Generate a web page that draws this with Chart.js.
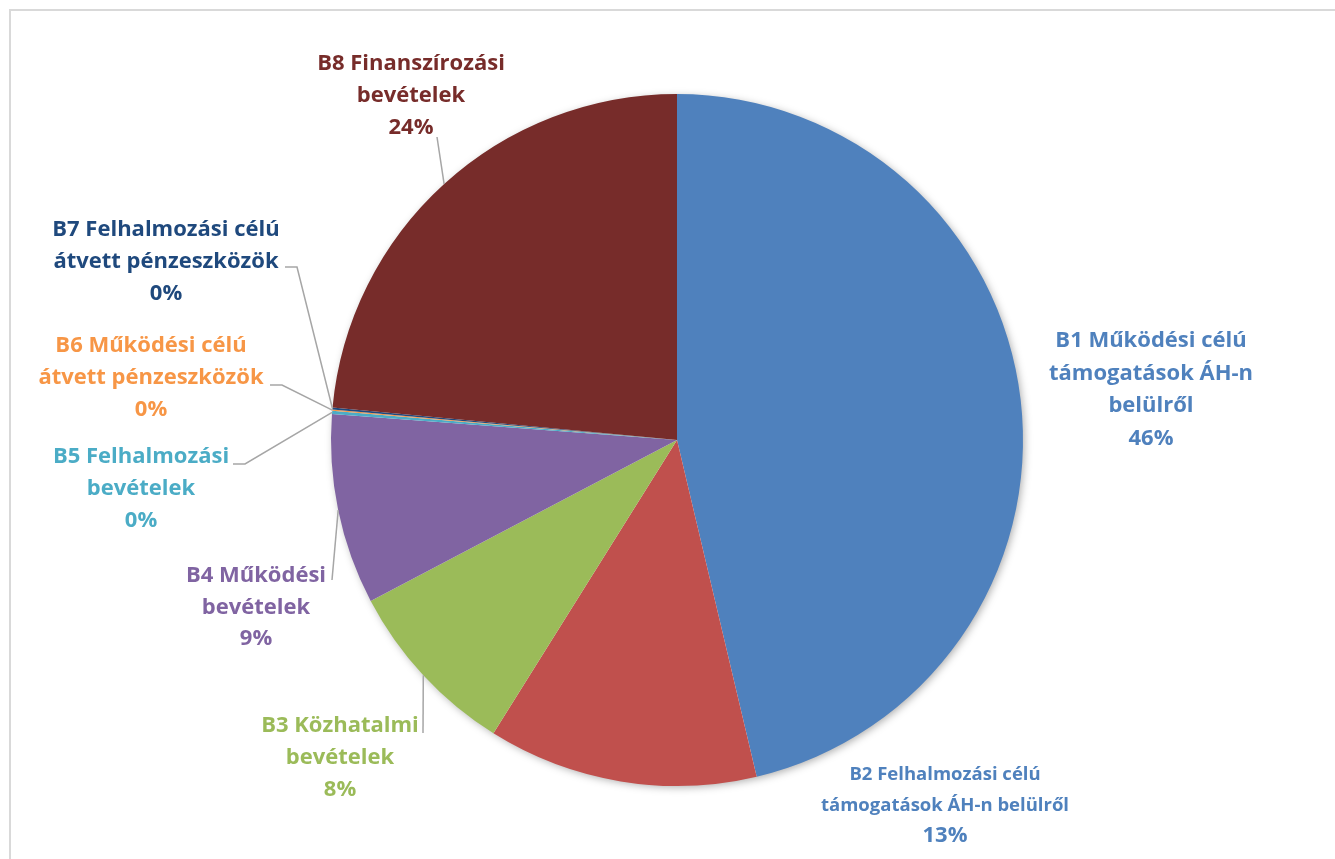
<!DOCTYPE html>
<html>
<head>
<meta charset="utf-8">
<script src="https://cdn.jsdelivr.net/npm/chart.js@4"></script>
<style>
  html, body { margin: 0; padding: 0; background: #fff; overflow: hidden; }
  #frame { position: absolute; left: 9px; top: 9px; width: 1330px; height: 900px; border: 2px solid #d9d9d9; box-sizing: border-box; }
  #wrap { position: absolute; left: 0; top: 0; width: 1335px; height: 859px; }
</style>
</head>
<body>
<div id="frame"></div>
<div id="wrap"><canvas id="myChart"></canvas></div>
<script>
// categories and values (share of revenue, %)
var categories = ['B1 Működési célú támogatások ÁH-n belülről', 'B2 Felhalmozási célú támogatások ÁH-n belülről',
  'B3 Közhatalmi bevételek', 'B4 Működési bevételek', 'B5 Felhalmozási bevételek',
  'B6 Működési célú átvett pénzeszközök', 'B7 Felhalmozási célú átvett pénzeszközök', 'B8 Finanszírozási bevételek'];
var values = [46.3, 12.6, 8.4, 8.9, 0.15, 0.05, 0.1, 23.5];
var labelLines = [
  ['B1 Működési célú', 'támogatások ÁH-n', 'belülről'],
  ['B2 Felhalmozási célú', 'támogatások ÁH-n belülről'],
  ['B3 Közhatalmi', 'bevételek'],
  ['B4 Működési', 'bevételek'],
  ['B5 Felhalmozási', 'bevételek'],
  ['B6 Működési célú', 'átvett pénzeszközök'],
  ['B7 Felhalmozási célú', 'átvett pénzeszközök'],
  ['B8 Finanszírozási', 'bevételek']
];
var colors = ['#4F81BD', '#C0504D', '#9BBB59', '#8064A2', '#4BACC6', '#F79646', '#1F497D', '#772C2A'];
var textColors = ['#4F81BD', '#4F81BD', '#9BBB59', '#8064A2', '#4BACC6', '#F79646', '#1F497D', '#772C2A'];

// label layout: centre x, first line y, font size, line height, leader (elbow points from text end)
var labelLayout = [
  { x: 1151, y: 341, size: 22, lh: 32.5 },
  { x: 945, y: 775, size: 18.5, lh: 30.5, pctSize: 22 },
  { x: 340, y: 726, size: 22, lh: 32, leader: [[423, 733]] },
  { x: 256, y: 576, size: 22, lh: 31.5, leader: [[332, 580]] },
  { x: 141, y: 457, size: 22, lh: 32, leader: [[233, 464], [245, 464]] },
  { x: 151, y: 346, size: 22, lh: 32, leader: [[270, 385], [282, 385]] },
  { x: 166, y: 230, size: 22, lh: 32, leader: [[285, 267], [297, 267]] },
  { x: 411, y: 64, size: 22, lh: 32, leader: [[437, 137]] }
];

var FONT = '"Open Sans", Lato, sans-serif';

var shadowPlugin = {
  id: 'pieShadow',
  beforeDatasetsDraw: function(chart) {
    var arc = chart.getDatasetMeta(0).data[0];
    if (!arc) return;
    var ctx = chart.ctx;
    ctx.save();
    ctx.shadowColor = 'rgba(0,0,0,0.35)';
    ctx.shadowBlur = 8;
    ctx.shadowOffsetX = 2;
    ctx.shadowOffsetY = 2;
    ctx.fillStyle = '#fff';
    ctx.beginPath();
    ctx.arc(arc.x, arc.y, arc.outerRadius - 1, 0, Math.PI * 2);
    ctx.fill();
    ctx.restore();
  }
};

var labelPlugin = {
  id: 'sliceLabels',
  afterDatasetsDraw: function(chart) {
    var ctx = chart.ctx;
    var meta = chart.getDatasetMeta(0);
    var total = values.reduce(function(a, b) { return a + b; }, 0);
    ctx.save();
    meta.data.forEach(function(arc, i) {
      var lay = labelLayout[i];
      // leader line
      if (lay.leader) {
        var mid = (arc.startAngle + arc.endAngle) / 2;
        var ex = arc.x + Math.cos(mid) * arc.outerRadius;
        var ey = arc.y + Math.sin(mid) * arc.outerRadius;
        ctx.strokeStyle = '#a6a6a6';
        ctx.lineWidth = 1.5;
        ctx.beginPath();
        ctx.moveTo(lay.leader[0][0], lay.leader[0][1]);
        for (var k = 1; k < lay.leader.length; k++) ctx.lineTo(lay.leader[k][0], lay.leader[k][1]);
        ctx.lineTo(ex, ey);
        ctx.stroke();
      }
      ctx.fillStyle = textColors[i];
      ctx.textAlign = 'center';
      ctx.textBaseline = 'middle';
      var lines = labelLines[i];
      ctx.font = 'bold ' + lay.size + 'px ' + FONT;
      lines.forEach(function(t, j) {
        ctx.fillText(t, lay.x, lay.y + j * lay.lh);
      });
      ctx.font = 'bold ' + (lay.pctSize || lay.size) + 'px ' + FONT;
      ctx.fillText(Math.round(values[i] / total * 100) + '%', lay.x, lay.y + lines.length * lay.lh);
    });
    ctx.restore();
  }
};

document.addEventListener('DOMContentLoaded', function(){
  var ctx = document.getElementById('myChart').getContext('2d');
  var chart = new Chart(ctx, {
      type: 'pie',
      data: {
          labels: categories,
          datasets: [{
              data: values,
              backgroundColor: colors,
              borderWidth: 0
          }]
      },
      options: {
        responsive: true,
        maintainAspectRatio: false,
        animation: false,
        layout: { padding: { top: 94, bottom: 73, left: 300, right: 281 } },
        plugins: {
          legend: { display: false },
          tooltip: { enabled: false }
        }
      },
      plugins: [shadowPlugin, labelPlugin]
  });
});
</script>
</body>
</html>
